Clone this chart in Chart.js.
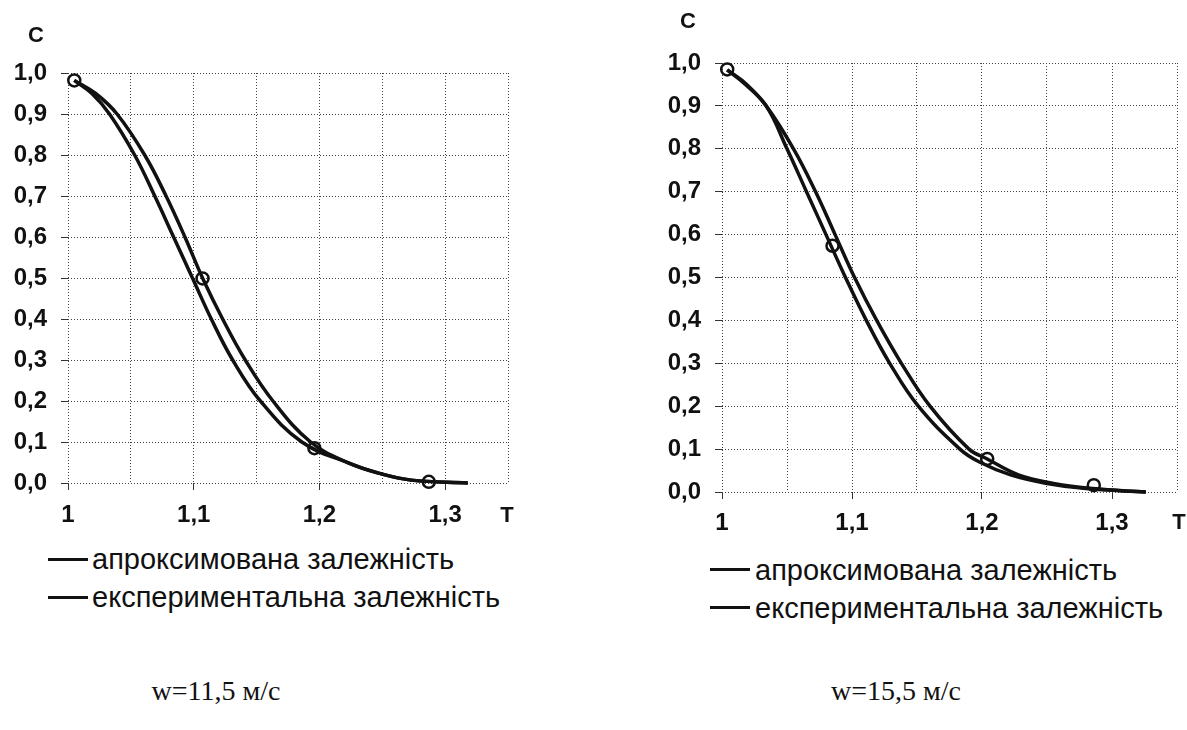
<!DOCTYPE html>
<html>
<head>
<meta charset="utf-8">
<script src="https://cdn.jsdelivr.net/npm/chart.js@4.4.0/dist/chart.umd.min.js"></script>
<style>
  body { margin:0; background:#fff; width:1187px; height:730px; overflow:hidden; position:relative;
         font-family:"Liberation Sans", Arial, sans-serif; color:#111; }
  .box { position:absolute; top:0; }
  #boxA { left:0; width:560px; height:540px; }
  #boxB { left:600px; width:587px; height:540px; }
  .ax { position:absolute; font-weight:bold; font-size:22px; line-height:22px; transform:translate(-50%,-50%); }
  .sw { position:absolute; width:40px; height:3px; background:#111; }
  .leg { position:absolute; font-size:29px; line-height:32px; white-space:nowrap; }
  .cap { position:absolute; font-family:"Liberation Serif","Times New Roman",serif; font-size:28px;
         line-height:32px; transform:translateX(-50%); white-space:nowrap; }
</style>
</head>
<body>
<div class="box" id="boxA"><canvas id="chartA" width="560" height="540"></canvas></div>
<div class="box" id="boxB"><canvas id="chartB" width="587" height="540"></canvas></div>

<div class="ax" style="left:36px;top:35px">C</div>
<div class="ax" style="left:507px;top:515px">T</div>
<div class="ax" style="left:688px;top:21px">C</div>
<div class="ax" style="left:1179px;top:522px">T</div>

<div id="legA"></div>
<div id="legB"></div>

<div class="cap" id="capA" style="left:216px;top:675px"></div>
<div class="cap" id="capB" style="left:896px;top:675px"></div>

<script>
// підписи осей
const xTickValues = [1, 1.1, 1.2, 1.3];
const xTickLabels = ['1', '1,1', '1,2', '1,3'];
const yTickLabels = ['0,0', '0,1', '0,2', '0,3', '0,4', '0,5', '0,6', '0,7', '0,8', '0,9', '1,0'];

const seriesNames = ['апроксимована залежність', 'експериментальна залежність'];
const captions = ['w=11,5 м/с', 'w=15,5 м/с'];

// w = 11,5 м/с
const tApprox1 = [1.005, 1.019, 1.033, 1.053, 1.069, 1.084, 1.099, 1.114, 1.131, 1.153, 1.186, 1.223, 1.247, 1.273, 1.318];
const cApprox1 = [0.982, 0.95, 0.90, 0.80, 0.70, 0.60, 0.50, 0.40, 0.30, 0.20, 0.10, 0.049, 0.024, 0.007, 0.0];
const tExp1 = [1.005, 1.022, 1.039, 1.061, 1.078, 1.093, 1.107, 1.123, 1.141, 1.163, 1.193, 1.223, 1.247, 1.273, 1.318];
const cExp1 = [0.982, 0.95, 0.90, 0.80, 0.70, 0.60, 0.50, 0.40, 0.30, 0.20, 0.10, 0.049, 0.024, 0.007, 0.0];
const tMeas1 = [1.005, 1.107, 1.196, 1.287];
const cMeas1 = [0.982, 0.499, 0.085, 0.003];

// w = 15,5 м/с
const tApprox2 = [1.004, 1.018, 1.034, 1.050, 1.065, 1.080, 1.095, 1.111, 1.129, 1.151, 1.183, 1.198, 1.222, 1.250, 1.280, 1.326];
const cApprox2 = [0.984, 0.95, 0.90, 0.80, 0.70, 0.60, 0.50, 0.40, 0.30, 0.20, 0.10, 0.07, 0.04, 0.02, 0.008, 0.0];
const tExp2 = [1.004, 1.019, 1.034, 1.055, 1.072, 1.087, 1.102, 1.119, 1.138, 1.160, 1.190, 1.204, 1.228, 1.255, 1.285, 1.326];
const cExp2 = [0.984, 0.95, 0.90, 0.80, 0.70, 0.60, 0.50, 0.40, 0.30, 0.20, 0.10, 0.077, 0.04, 0.02, 0.008, 0.0];
const tMeas2 = [1.004, 1.085, 1.204, 1.286];
const cMeas2 = [0.985, 0.574, 0.077, 0.016];

window.onload = function(){
  chartLeft(); chartRight();
  legend('legA', 48, 92, 558, 543);
  legend('legB', 710, 755, 568, 554);
  document.getElementById('capA').textContent = captions[0];
  document.getElementById('capB').textContent = captions[1];
};

function toXY(xs, ys){
  return xs.map((x, i) => ({x: x, y: ys[i]}));
}

function labelX(v){
  const i = xTickValues.findIndex(t => Math.abs(t - v) < 1e-6);
  return i < 0 ? '' : xTickLabels[i];
}

function legend(id, lineX, textX, lineY, textY){
  const el = document.getElementById(id);
  seriesNames.forEach((name, i) => {
    const sw = document.createElement('div');
    sw.className = 'sw';
    sw.style.left = lineX + 'px'; sw.style.top = (lineY + i * 38) + 'px';
    const tx = document.createElement('div');
    tx.className = 'leg';
    tx.style.left = textX + 'px'; tx.style.top = (textY + i * 38) + 'px';
    tx.textContent = name;
    el.appendChild(sw); el.appendChild(tx);
  });
}

function buildChart(id, curves, meas, g){
  const ctx = document.getElementById(id).getContext('2d');
  const tickFont = { family: '"Liberation Sans", Arial, sans-serif', size: 24, weight: 'bold' };
  const line = (name, pts) => ({
    label: name, data: pts, showLine: true, borderColor: '#111', borderWidth: 3.5,
    pointRadius: 0, tension: 0.4, fill: false, clip: false
  });

  new Chart(ctx, {
    type: 'scatter',
    data: {
      datasets: [
        line(seriesNames[0], curves[0]),
        line(seriesNames[1], curves[1]),
        { label: 'виміри', data: meas, showLine: false, pointRadius: 6, pointBorderWidth: 2.5,
          pointBorderColor: '#111', pointBackgroundColor: 'rgba(0,0,0,0)', clip: false }
      ]
    },
    options: {
      responsive: false,
      animation: false,
      layout: { padding: { top: g.top, right: g.right, left: 0, bottom: 0 } },
      plugins: { legend: { display: false }, tooltip: { enabled: false } },
      scales: {
        x: {
          type: 'linear', min: 1, max: 1.35,
          afterFit: s => { s.height = g.axisH; },
          ticks: { stepSize: 0.05, autoSkip: false, maxRotation: 0, padding: g.xPad,
                   color: '#111', font: tickFont, callback: v => labelX(v) },
          grid: { color: '#444', lineWidth: 1, tickLength: 7,
                  tickColor: c => labelX(c.tick.value) ? '#333' : 'rgba(0,0,0,0)' },
          border: { display: false, dash: [1, 2] }
        },
        y: {
          min: 0, max: 1,
          afterFit: s => { s.width = g.axisW; },
          ticks: { stepSize: 0.1, padding: 14, color: '#111', font: tickFont,
                   callback: v => yTickLabels[Math.round(v * 10)] },
          grid: { color: '#444', lineWidth: 1, tickLength: 7, tickColor: '#333' },
          border: { display: false, dash: [1, 2] }
        }
      }
    }
  });
}

/* w = 11,5 */
function chartLeft(){
  buildChart('chartA',
    [toXY(tApprox1, cApprox1), toXY(tExp1, cExp1)],
    toXY(tMeas1, cMeas1),
    { top: 73, right: 52, axisW: 68, axisH: 57, xPad: 11 });
}

/* w = 15,5 */
function chartRight(){
  buildChart('chartB',
    [toXY(tApprox2, cApprox2), toXY(tExp2, cExp2)],
    toXY(tMeas2, cMeas2),
    { top: 63, right: 7, axisW: 122, axisH: 48, xPad: 10 });
}
</script>
</body>
</html>
